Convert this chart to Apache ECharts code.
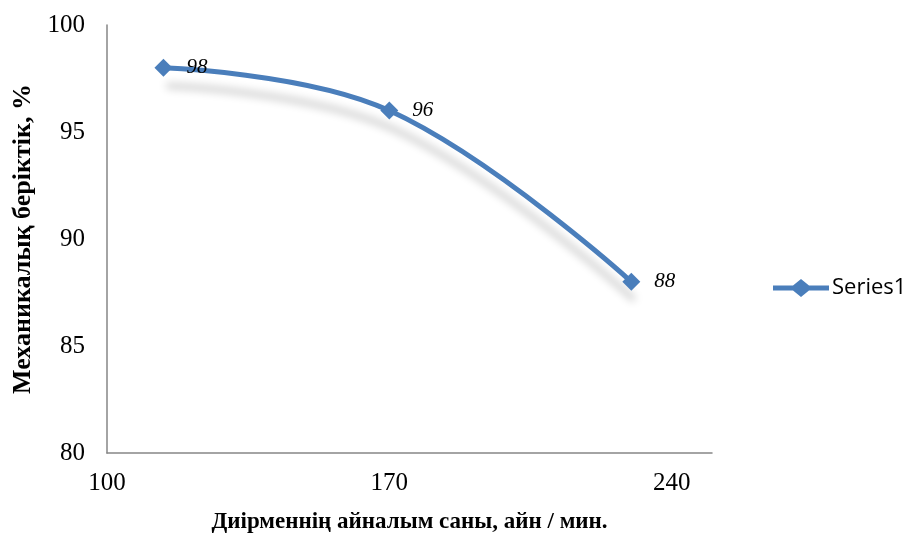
<!DOCTYPE html>
<html>
<head>
<meta charset="utf-8">
<script src="https://cdn.jsdelivr.net/npm/echarts@6/dist/echarts.min.js"></script>
<style>html,body{margin:0;padding:0;background:#fff}#chart{width:909px;height:535px}</style>
</head>
<body>
<div id="chart"></div>
<script>
var xValues = [114, 170, 230];
var yValues = [98, 96, 88];
var seriesName = 'Series1';

var myChart = echarts.init(document.getElementById('chart'));
var serif = '"Liberation Serif", "Times New Roman", serif';
var option = {
    animation: false,
    grid: { left: 107, right: 197, top: 25, bottom: 82, outerBoundsMode: 'none' },
    legend: {
        left: 768, top: 272,
        itemWidth: 56, itemHeight: 18, itemGap: 4,
        textStyle: { fontFamily: '"Open Sans", "Liberation Sans", sans-serif', fontSize: 22, color: '#000', padding: [0, 0, 0, -2] },
        data: [{ name: seriesName, icon: 'path://M0,6.5 L20,6.5 L28,0 L36,6.5 L56,6.5 L56,11.5 L36,11.5 L28,18 L20,11.5 L0,11.5 Z' }]
    },
    xAxis: {
        type: 'value', min: 100, max: 250, interval: 70,
        name: 'Диірменнің айналым саны, айн / мин.',
        nameLocation: 'middle', nameGap: 58,
        nameTextStyle: { fontFamily: serif, fontWeight: 'bold', fontSize: 23, color: '#000' },
        axisLine: { lineStyle: { color: '#868686', width: 1.5 } },
        axisTick: { show: false },
        splitLine: { show: false },
        axisLabel: { fontFamily: serif, fontSize: 25, color: '#000', margin: 18, showMaxLabel: false }
    },
    yAxis: {
        type: 'value', min: 80, max: 100, interval: 5,
        name: 'Механикалық беріктік, %',
        nameLocation: 'middle', nameGap: 70,
        nameTextStyle: { fontFamily: serif, fontWeight: 'bold', fontSize: 26, color: '#000' },
        axisLine: { show: true, lineStyle: { color: '#868686', width: 1.5 } },
        axisTick: { show: false },
        splitLine: { show: false },
        axisLabel: { fontFamily: serif, fontSize: 25, color: '#000', margin: 22 }
    },
    series: [{
        name: seriesName,
        type: 'line',
        smooth: 0.4,
        data: xValues.map(function (x, i) { return [x, yValues[i]]; }),
        symbol: 'diamond', symbolSize: 18,
        itemStyle: { color: '#4a7ebb' },
        lineStyle: {
            color: '#4a7ebb', width: 5,
            shadowColor: 'rgba(0,0,0,0.22)', shadowBlur: 8, shadowOffsetX: 3, shadowOffsetY: 18
        },
        label: {
            show: true, position: 'right', distance: 14,
            fontFamily: serif, fontStyle: 'italic', fontSize: 21, color: '#000'
        }
    }]
};
myChart.setOption(option);
</script>
</body>
</html>
